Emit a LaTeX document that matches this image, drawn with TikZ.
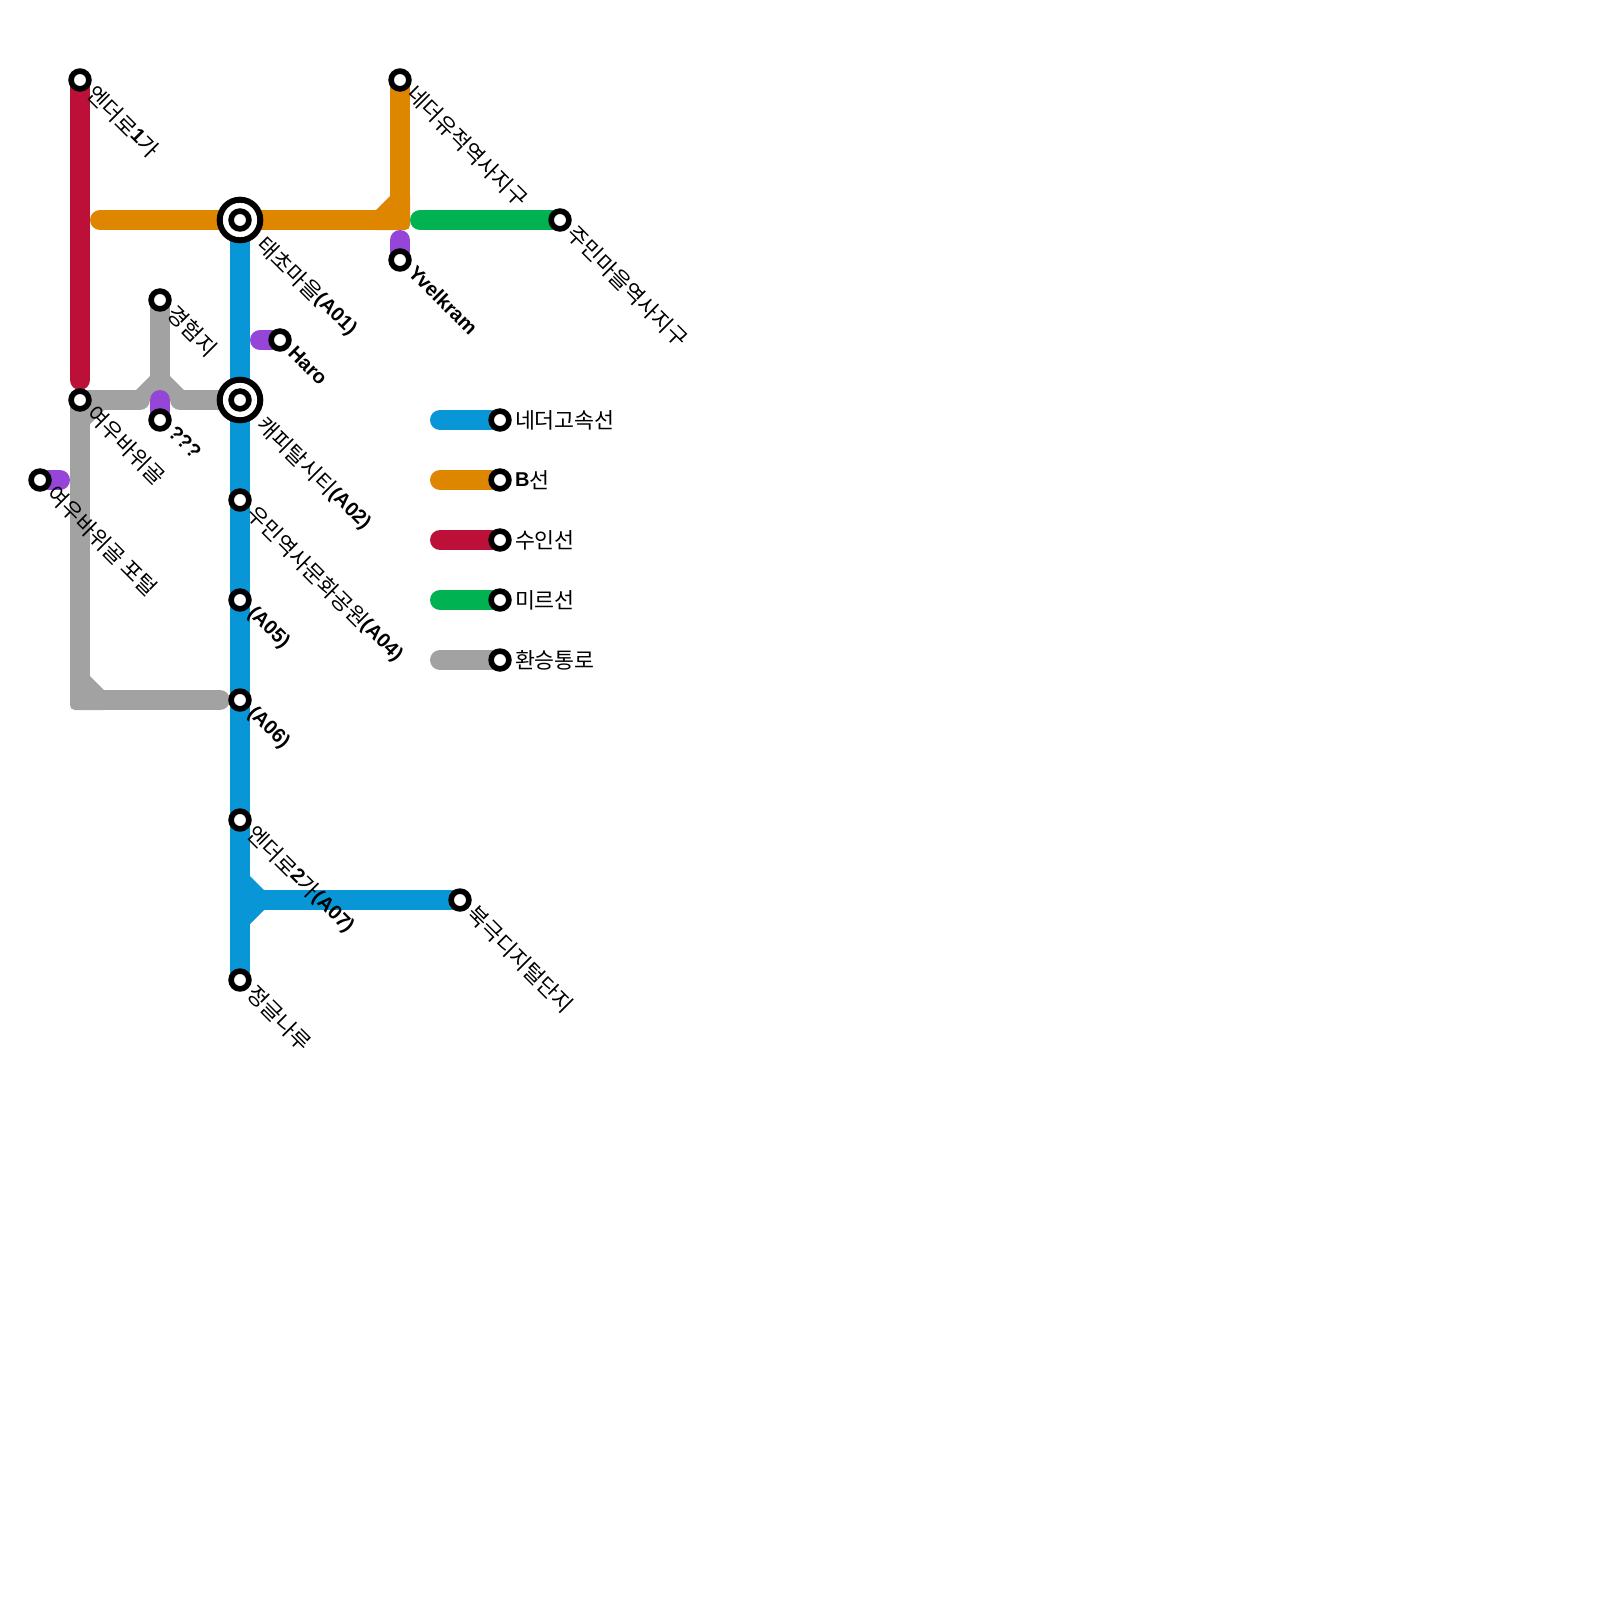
\documentclass[tikz,border=0pt]{standalone}
\usepackage{fontspec}
\setmainfont{Liberation Sans}
\newfontfamily\kr[Scale=1.085]{Noto Sans CJK KR}
\newcommand{\lb}[1]{{\fontspec{Liberation Sans}\bfseries #1}}
\newcommand{\ko}[1]{\raisebox{-2.5pt}{#1}}
\pgfdeclarelayer{bg}
\pgfsetlayers{bg,main}
\definecolor{cblue}{HTML}{0896D7}
\definecolor{corange}{HTML}{DF8600}
\definecolor{cred}{HTML}{BD1038}
\definecolor{cgreen}{HTML}{00B251}
\definecolor{cgray}{HTML}{A2A2A2}
\definecolor{cpurple}{HTML}{9645D9}
\tikzset{
  x=1pt,y=-1pt,
  route/.style={line width=20pt,line cap=round,line join=miter},
  stn/.style={circle,draw=black,fill=white,line width=5.6pt,inner sep=0pt,outer sep=0pt,minimum size=17.8pt},
  hubring/.style={circle,draw=black,fill=white,line width=6pt,inner sep=0pt,outer sep=0pt,minimum size=40.6pt},
  lab/.style={rotate=-45,anchor=base west,inner sep=0pt,outer sep=0pt,font=\fontsize{20pt}{24pt}\selectfont\kr},
  leg/.style={anchor=base west,inner sep=0pt,outer sep=0pt,font=\fontsize{20pt}{24pt}\selectfont\kr},
}
\begin{document}
\begin{tikzpicture}
\useasboundingbox (0,0) rectangle (1600,1600);
% stations
\node[stn] (endo1) at (80,80) {};
\node[hubring] (taeR) at (240,220) {};
\node[stn] (tae) at (240,220) {};
\node[stn] (gyeong) at (160,300) {};
\node[stn] (haro) at (280,340) {};
\node[stn] (nether) at (400,80) {};
\node[stn] (jumin) at (560,220) {};
\node[stn] (yvel) at (400,260) {};
\node[stn] (yeou) at (80,400) {};
\node[stn] (qqq) at (160,420) {};
\node[stn] (portal) at (40,480) {};
\node[hubring] (capR) at (240,400) {};
\node[stn] (cap) at (240,400) {};
\node[stn] (umin) at (240,500) {};
\node[stn] (a05) at (240,600) {};
\node[stn] (a06) at (240,700) {};
\node[stn] (endo2) at (240,820) {};
\node[stn] (buk) at (460,900) {};
\node[stn] (jungle) at (240,980) {};
\node[stn] (l1) at (500,420) {};
\node[stn] (l2) at (500,480) {};
\node[stn] (l3) at (500,540) {};
\node[stn] (l4) at (500,600) {};
\node[stn] (l5) at (500,660) {};
% free ends
\coordinate (redEnd) at (80,380);
\coordinate (orangeStart) at (100,220);
\coordinate (greenStart) at (420,220);
\coordinate (blueJoin) at (240,900);
\coordinate (grayEnd) at (220,700);
\coordinate (grayA) at (140,400);
\coordinate (grayB) at (160,380);
\coordinate (grayC) at (180,400);
\coordinate (haroStart) at (260,340);
\coordinate (yvelStart) at (400,240);
\coordinate (qqqStart) at (160,400);
\coordinate (portalStart) at (60,480);
\coordinate (ll1) at (440,420);
\coordinate (ll2) at (440,480);
\coordinate (ll3) at (440,540);
\coordinate (ll4) at (440,600);
\coordinate (ll5) at (440,660);
\begin{pgfonlayer}{bg}
\fill[white] (0,0) rectangle (1600,1600);
% gray
\draw[route,cgray,line cap=butt] (yeou.center) -- (80,680);
\draw[route,cgray] (100,700) -- (grayEnd);
\fill[cgray] (90,676) -- (104,690) -- (104,710) -- (75,710) .. controls (72,710) and (70,708) .. (70,705) -- (70,676) -- cycle;
\fill[cgray] (90,424) -- (104,410) -- (90,405) -- cycle;
\draw[route,cgray] (yeou.center) -- (grayA);
\draw[route,cgray] (capR.center) -- (grayC);
\draw[route,cgray] (gyeong.center) -- (grayB);
\fill[cgray] (136,390) -- (150,376) -- (170,376) -- (184,390) -- (184,400) -- (136,400) -- cycle;
% red
\draw[route,cred] (endo1.center) -- (redEnd);
% blue
\draw[route,cblue] (taeR.center) -- (jungle.center);
\draw[route,cblue] (blueJoin) -- (buk.center);
\fill[cblue] (250,876) -- (264,890) -- (264,910) -- (250,924) -- cycle;
% orange
\draw[route,corange] (orangeStart) -- (taeR.center);
\draw[route,corange,line cap=butt] (taeR.center) -- (380,220);
\draw[route,corange,line cap=butt] (nether.center) -- (400,200);
\fill[corange] (376,210) -- (390,196) -- (410,196) -- (410,225) .. controls (410,228) and (408,230) .. (405,230) -- (376,230) -- cycle;
% green
\draw[route,cgreen] (greenStart) -- (jumin.center);
% purple
\draw[route,cpurple] (haroStart) -- (haro.center);
\draw[route,cpurple] (yvelStart) -- (yvel.center);
\draw[route,cpurple] (qqqStart) -- (qqq.center);
\draw[route,cpurple] (portalStart) -- (portal.center);
% legend
\draw[route,cblue] (ll1) -- (l1.center);
\draw[route,corange] (ll2) -- (l2.center);
\draw[route,cred] (ll3) -- (l3.center);
\draw[route,cgreen] (ll4) -- (l4.center);
\draw[route,cgray] (ll5) -- (l5.center);
\end{pgfonlayer}
% labels
\node[lab] (tEndo1) at (87,94) {\ko{엔더로}\lb{1}\ko{가}};
\node[lab] (tTae) at (257.5,244.5) {\ko{태초마을}\lb{(A01)}};
\node[lab] (tGyeong) at (167,314) {\ko{경험지}};
\node[lab] (tHaro) at (287,354) {\lb{Haro}};
\node[lab] (tNether) at (407,94) {\ko{네더유적역사지구}};
\node[lab] (tJumin) at (567,234) {\ko{주민마을역사지구}};
\node[lab] (tYvel) at (407,274) {\lb{Yvelkram}};
\node[lab] (tYeou) at (87,414) {\ko{여우바위골}};
\node[lab] (tQqq) at (167,434) {\lb{???}};
\node[lab] (tPortal) at (47,494) {\ko{여우바위골 포털}};
\node[lab] (tCap) at (257.5,424.5) {\ko{캐피탈시티}\lb{(A02)}};
\node[lab] (tUmin) at (247,514) {\ko{우민역사문화공원}\lb{(A04)}};
\node[lab] (tA05) at (247,614) {\lb{(A05)}};
\node[lab] (tA06) at (247,714) {\lb{(A06)}};
\node[lab] (tEndo2) at (247,834) {\ko{엔더로}\lb{2}\ko{가}\lb{(A07)}};
\node[lab] (tBuk) at (467,914) {\ko{북극디지털단지}};
\node[lab] (tJungle) at (247,994) {\ko{정글나루}};
\node[leg] (t1) at (515,426) {\ko{네더고속선}};
\node[leg] (t2) at (515,486) {\lb{B}\ko{선}};
\node[leg] (t3) at (515,546) {\ko{수인선}};
\node[leg] (t4) at (515,606) {\ko{미르선}};
\node[leg] (t5) at (515,666) {\ko{환승통로}};
\end{tikzpicture}
\end{document}
